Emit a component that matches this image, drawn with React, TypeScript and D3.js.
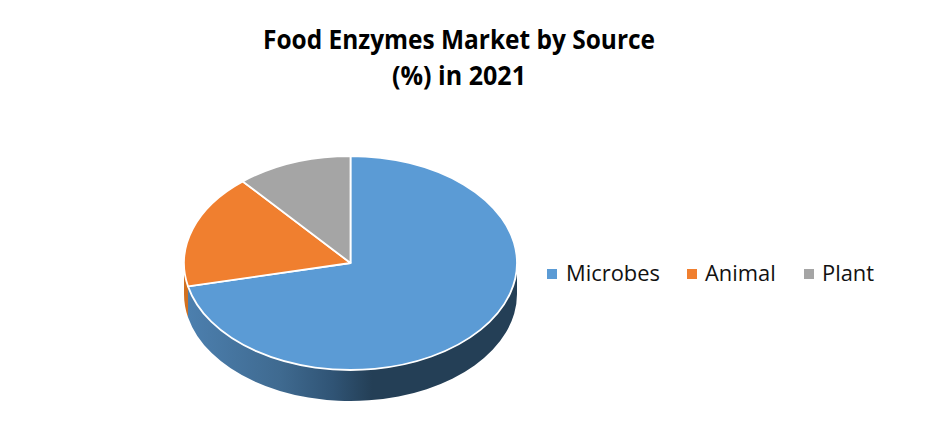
import React from "react";
import * as d3 from "d3";

const categories = ["Microbes", "Animal", "Plant"];
const shares = [71.5, 17.3, 11.2];
const colors = ["#5B9BD5", "#F07F2F", "#A5A5A5"];
const sideColors = ["url(#sideBlue)", "#D2701F", "#888888"];
const titleLines = ["Food Enzymes Market by Source", "(%) in 2021"];
const titleWidths = [392, 134];
const legendSwatchX = [547, 687, 804];
const legendTextX = [566, 705, 822];

const W = 940, H = 448;
const cx = 350.5, cy = 263, rx = 166.5, ry = 107, depth = 31;

export default function App() {
  const pie = d3.pie<number>().value((d) => d).sort(null);
  const arcs = pie(shares);
  const arc = d3.arc<d3.PieArcDatum<number>>().innerRadius(0).outerRadius(rx);
  const px = (a: number) => cx + rx * Math.sin(a);
  const py = (a: number) => cy - ry * Math.cos(a);

  const wall = (a0: number, a1: number) => {
    const s = Math.max(a0, Math.PI / 2), e = Math.min(a1, (3 * Math.PI) / 2);
    if (e <= s) return null;
    return `M${px(s)},${py(s)}A${rx},${ry} 0 ${e - s > Math.PI ? 1 : 0} 1 ${px(e)},${py(e)}` +
      `L${px(e)},${py(e) + depth}A${rx},${ry} 0 ${e - s > Math.PI ? 1 : 0} 0 ${px(s)},${py(s) + depth}Z`;
  };

  return (
    <svg width={W} height={H} style={{ position: "absolute", left: 0, top: 0, background: "#fff" }}>
      <defs>
        <linearGradient id="sideBlue" gradientUnits="userSpaceOnUse" x1={188} x2={517} y1={0} y2={0}>
          <stop offset="0" stopColor="#4C7FAE" />
          <stop offset="0.28" stopColor="#3F6A90" />
          <stop offset="0.44" stopColor="#305475" />
          <stop offset="0.56" stopColor="#243F56" />
          <stop offset="1" stopColor="#243F56" />
        </linearGradient>
      </defs>
      <g fontFamily="'Open Sans', sans-serif" fontWeight={700} fontSize={27} fill="#000" textAnchor="middle">
        {titleLines.map((t, i) => (
          <text key={t} x={459} y={49 + i * 36} textLength={titleWidths[i]} lengthAdjust="spacingAndGlyphs">{t}</text>
        ))}
      </g>
      {arcs.map((d, i) => {
        const p = wall(d.startAngle, d.endAngle);
        return p ? <path key={i} d={p} fill={sideColors[i]} /> : null;
      })}
      <g transform={`translate(${cx},${cy}) scale(1,${ry / rx})`}>
        {arcs.map((d, i) => (
          <path key={i} d={arc(d) as string} fill={colors[i]} stroke="#fff" strokeWidth={1.8}
            strokeLinejoin="round" style={{ vectorEffect: "non-scaling-stroke" }} />
        ))}
      </g>
      <g fontFamily="'Open Sans', sans-serif" fontSize={21.9} fill="#111">
        {categories.map((c, i) => (
          <g key={c}>
            <rect x={legendSwatchX[i]} y={269} width={10} height={10} fill={colors[i]} />
            <text x={legendTextX[i]} y={281}>{c}</text>
          </g>
        ))}
      </g>
    </svg>
  );
}
